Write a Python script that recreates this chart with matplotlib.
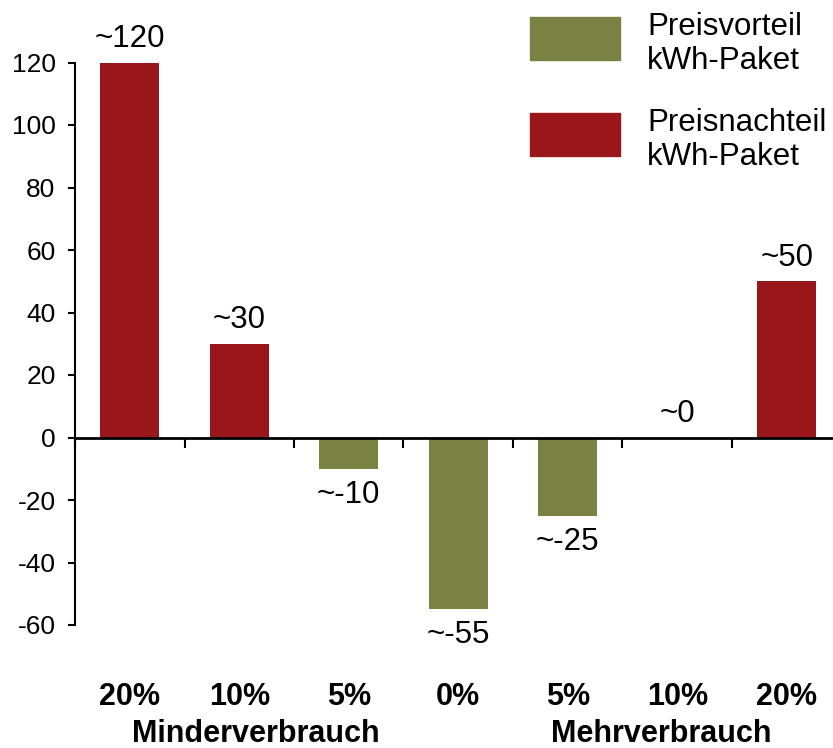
import matplotlib
matplotlib.use('Agg')
import matplotlib.pyplot as plt
from matplotlib.patches import Rectangle
import numpy as np

plt.rcParams['font.family'] = ['Liberation Sans', 'DejaVu Sans']
plt.rcParams['axes.unicode_minus'] = False

# data
categories = ['20%', '10%', '5%', '0%', '5%', '10%', '20%']
values = [120, 30, -10, -55, -25, 0, 50]
value_labels = ['~120', '~30', '~-10', '~-55', '~-25', '~0', '~50']
groups = ['Minderverbrauch', 'Mehrverbrauch']
group_centers = [1.15, 4.85]
legend_labels = ['Preisvorteil\nkWh-Paket', 'Preisnachteil\nkWh-Paket']

RED = '#99171A'
OLIVE = '#7A8243'

W, H = 833, 748
fig = plt.figure(figsize=(W / 100, H / 100), dpi=100)
ax = fig.add_axes([75 / W, (H - 625) / H, 766.5 / W, 562.5 / H])

x = np.arange(len(values))
colors = [RED if v > 0 else OLIVE for v in values]
ax.bar(x, values, width=0.54, color=colors, zorder=2)

for xi, v, lab in zip(x, values, value_labels):
    if v >= 0:
        ax.annotate(lab, (xi, v), xytext=(0, 6), textcoords='offset points',
                    ha='center', va='bottom', fontsize=22.5)
    else:
        ax.annotate(lab, (xi, v), xytext=(0, -8), textcoords='offset points',
                    ha='center', va='top', fontsize=22.5)

ax.set_xlim(-0.5, 6.5)
ax.set_ylim(-60, 120)
ax.set_yticks(np.arange(-60, 121, 20))
ax.tick_params(axis='y', direction='out', length=5, width=1.5, pad=9, labelsize=19)

# zero line with ticks between the categories
ax.spines['bottom'].set_position(('data', 0))
ax.spines['bottom'].set_linewidth(2)
ax.spines['bottom'].set_zorder(3)
ax.set_xticks(np.arange(-0.5, 6.6, 1.0))
ax.set_xticklabels([])
ax.tick_params(axis='x', direction='out', length=7.5, width=1.5)
ax.spines['left'].set_linewidth(1.5)
ax.spines['left'].set_bounds(-60, 120)
ax.spines['top'].set_visible(False)
ax.spines['right'].set_visible(False)

tr = ax.get_xaxis_transform()
for xi, c in zip(x, categories):
    ax.text(xi, -0.128, c, transform=tr, ha='center', va='center',
            fontsize=22, fontweight='bold')
for gx, g in zip(group_centers, groups):
    ax.text(gx, -0.194, g, transform=tr, ha='center', va='center',
            fontsize=22, fontweight='bold')

# legend
for i, (lab, col) in enumerate(zip(legend_labels, [OLIVE, RED])):
    top = 17 + i * 96
    fig.add_artist(Rectangle((530 / W, 1 - (top + 43) / H), 90 / W, 43 / H,
                             transform=fig.transFigure, color=col))
    fig.text(647 / W, 1 - (top + 27) / H, lab, ha='left', va='center',
             fontsize=22.5, linespacing=1.2)

fig.savefig('out.png', dpi=100)
